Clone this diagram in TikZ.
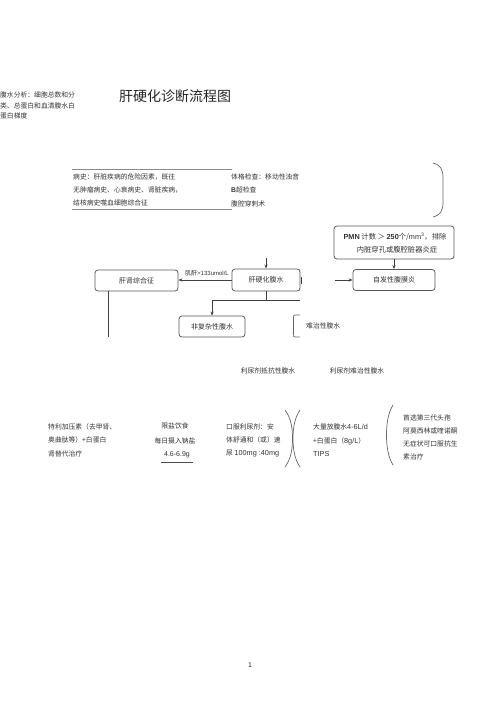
\documentclass[tikz,border=0pt]{standalone}
\usepackage{fontspec}
\setmainfont{Noto Sans CJK SC}
\newfontfamily\lat{Liberation Sans}
\usetikzlibrary{arrows.meta}
\begin{document}
\begin{tikzpicture}[x=1pt,y=-1pt,
  txt/.style={text=black!80, font=\fontsize{6.8}{8}\selectfont, inner sep=0pt, anchor=west},
  ctxt/.style={txt, anchor=center},
  box/.style={draw=black!65, line width=0.8pt, rounded corners=3pt, text=black!80, font=\fontsize{7}{9}\selectfont, inner sep=0pt},
  conn/.style={draw=black!75, line width=0.7pt},
  arr/.style={conn, -{Stealth[length=4pt,width=3.2pt]}},
  rulel/.style={draw=black!45, line width=0.6pt},
  brk/.style={draw=black!60, line width=0.7pt}]
\useasboundingbox (0,0) rectangle (500,708);

% top-left text
\node[txt] (ta1) at (0,95) {腹水分析：细胞总数和分};
\node[txt] (ta2) at (0,105.5) {类、总蛋白和血清腹水白};
\node[txt] (ta3) at (0,116) {蛋白梯度};
% title
\node[text=black!85, font=\fontsize{14}{16}\selectfont, inner sep=0pt] (title) at (175,96) {肝硬化诊断流程图};

% history block
\coordinate (r1a) at (72,169); \coordinate (r1b) at (232,169);
\coordinate (r2a) at (72,209); \coordinate (r2b) at (232,209);
\draw[rulel] (r1a) -- (r1b);
\draw[rulel] (r2a) -- (r2b);
\node[txt] (h1) at (73,177) {病史：肝脏疾病的危险因素，既往};
\node[txt] (h2) at (73,190) {无肿瘤病史、心衰病史、肾脏疾病，};
\node[txt] (h3) at (73,203) {结核病史噬血细胞综合征};
\node[txt] (e1) at (231,177) {体格检查：移动性浊音};
\node[txt] (e2) at (231,189.5) {{\lat\bfseries B}超检查};
\node[txt] (e3) at (231,204) {腹腔穿刺术};
% right bracket
\coordinate (b1t) at (433,163); \coordinate (b1b) at (433,217);
\draw[brk] (b1t) .. controls (441,165) and (443,170) .. (443,178) -- (443,202) .. controls (443,210) and (441,215) .. (b1b);

% boxes
\node[box, minimum width=120pt, minimum height=33pt] (pmn) at (394,242.5) {};
\node[text=black!80, font=\fontsize{7.3}{9}\selectfont, inner sep=0pt] (pmn1) at (395,237) {{\lat\bfseries PMN} 计数 ＞ {\lat\bfseries 250}个/{\lat mm\textsuperscript{3}}，排除};
\node[text=black!80, font=\fontsize{7.3}{9}\selectfont, inner sep=0pt] (pmn2) at (397,250) {内脏穿孔或腹腔脏器炎症};
\node[box, minimum width=82pt, minimum height=21pt] (sbp) at (394,280) {自发性腹膜炎};
\node[box, minimum width=68pt, minimum height=22pt] (asc) at (266,280) {肝硬化腹水};
\node[box, minimum width=83pt, minimum height=21pt] (hrs) at (136.5,280.5) {肝肾综合征};
\node[box, minimum width=66pt, minimum height=21pt] (unc) at (212,326.5) {非复杂性腹水};

% connectors
\draw[arr] (pmn.south) -- (sbp.north);
\coordinate (sbpin) at (335,280);
\draw[arr] (sbpin) -- (sbp.west);
\coordinate (ascin) at (266,258);
\draw[arr] (ascin) -- (asc.north);
\draw[arr] (asc.west) -- (hrs.east |- asc.west);
\node[text=black!80, font=\fontsize{6}{7}\selectfont, inner sep=0pt] (crea) at (207,273) {肌酐{\lat >133umol/L}};
\coordinate (tk1) at (301,277); \coordinate (tk2) at (301,284);
\draw[conn] (tk1) -- (tk2);
\coordinate (hl) at (212,300); \coordinate (hr) at (300,300);
\draw[conn] (asc.south) -- (asc.south |- hl);
\draw[conn] (hl) -- (hr);
\draw[arr] (hl) -- (unc.north);
\coordinate (hrsd) at (108,337);
\draw[conn] (hrs.south -| hrsd) -- (hrsd);

% refractory
\coordinate (rb1) at (300,315); \coordinate (rb2) at (300,337);
\draw[brk] (rb1) -- (296,315) .. controls (293.5,315) .. (293.5,318) -- (293.5,334) .. controls (293.5,337) .. (296,337) -- (rb2);
\node[txt] (ref) at (306,326) {难治性腹水};
\node[ctxt] (dr1) at (268,371) {利尿剂抵抗性腹水};
\node[ctxt] (dr2) at (357,371) {利尿剂难治性腹水};

% bottom row
\node[txt] (tl1) at (48,426.5) {特利加压素（去甲肾、};
\node[txt] (tl2) at (48,440) {奥曲肽等）+白蛋白};
\node[txt] (tl3) at (48,454) {肾替代治疗};
\node[ctxt] (s1) at (175,426) {限盐饮食};
\node[ctxt] (s2) at (175,441) {每日摄入钠盐};
\node[text=black!80, font=\fontsize{7}{8}\selectfont\lat, inner sep=0pt] (s3) at (177,455) {4.6-6.9g};
\coordinate (u1) at (161,462); \coordinate (u2) at (193,462);
\draw[draw=black!70, line width=0.6pt] (u1) -- (u2);
\node[txt] (d1) at (226,426.5) {口服利尿剂：安};
\node[txt] (d2) at (226,440) {体舒通和（或）速};
\node[txt] (d3) at (226,453.5) {尿 {\lat\fontsize{7.3}{8}\selectfont 100mg :40mg}};
% )( brackets
\coordinate (p1t) at (285,410); \coordinate (p1b) at (285,467);
\coordinate (p2t) at (300,410); \coordinate (p2b) at (300,467);
\draw[brk] (p1t) .. controls (291,418) and (292.5,428) .. (292.5,438.5) .. controls (292.5,449) and (291,459) .. (p1b);
\draw[brk] (p2t) .. controls (294.5,418) and (293,428) .. (293,438.5) .. controls (293,449) and (294.5,459) .. (p2b);
\node[txt] (pa1) at (313,427) {大量放腹水{\lat\fontsize{7.3}{8}\selectfont 4-6L/d}};
\node[txt] (pa2) at (313,441) {+白蛋白（{\lat\fontsize{7.3}{8}\selectfont 8g/L}）};
\node[txt] (pa3) at (313,454) {{\lat\fontsize{7.3}{8}\selectfont TIPS}};
% ( bracket
\coordinate (q1t) at (393,405); \coordinate (q1b) at (393,465);
\draw[brk] (q1t) .. controls (388,413) and (386.5,424) .. (386.5,435) .. controls (386.5,446) and (388,457) .. (q1b);
\node[txt] (ab1) at (403,418) {首选第三代头孢};
\node[txt] (ab2) at (403,431) {阿莫西林或喹诺酮};
\node[txt] (ab3) at (403,444) {无症状可口服抗生};
\node[txt] (ab4) at (403,457) {素治疗};

% page number
\node[text=black!85, font=\fontsize{7}{8}\selectfont\lat, inner sep=0pt] (pg) at (250,665) {1};
\end{tikzpicture}
\end{document}
